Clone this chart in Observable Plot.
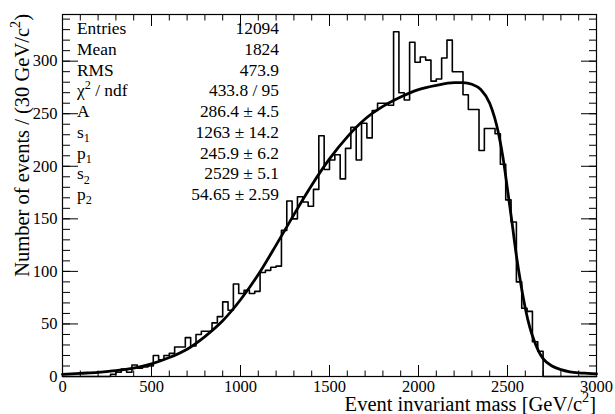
<!DOCTYPE html>
<html>
<head>
<meta charset="utf-8">
<script src="https://cdn.jsdelivr.net/npm/d3@7"></script>
<script src="https://cdn.jsdelivr.net/npm/@observablehq/plot@0.6"></script>
<style>
  html, body { margin: 0; padding: 0; background: #fff; }
  #chart svg { display: block; }
  #chart svg text, #chart svg tspan { font-family: "Liberation Serif", "Times New Roman", Times, serif !important; }
</style>
</head>
<body>
<div id="chart"></div>
<script>
// ---------------- data ----------------
const binWidth = 30; // GeV/c^2 per bin, 100 bins over [0, 3000]
const counts = [
  0, 0, 0, 0, 0, 0, 0, 0, 0, 2,
  4, 7, 4, 11, 8, 9, 10, 20, 16, 20,
  22, 28, 28, 37, 29, 40, 43, 43, 51, 57,
  71, 63, 88, 79, 82, 79, 81, 99, 101, 104,
  105, 139, 167, 150, 171, 166, 162, 178, 229, 197,
  206, 211, 188, 217, 237, 206, 241, 227, 253, 260,
  260, 258, 328, 270, 263, 318, 299, 304, 301, 281,
  283, 303, 320, 290, 290, 268, 254, 254, 215, 236,
  236, 231, 202, 168, 147, 90, 65, 62, 33, 24,
  0, 0, 0, 0, 0, 0, 0, 0, 0, 0
];

// fitted function
const fitX = [0, 100, 200, 300, 400, 500, 600, 700, 800, 900, 1000, 1100, 1200, 1300, 1400,
  1500, 1600, 1700, 1800, 1900, 2000, 2100, 2200, 2250, 2300, 2350, 2400, 2450, 2475, 2500,
  2525, 2550, 2575, 2600, 2625, 2650, 2675, 2700, 2750, 2800, 2850, 2900, 2950, 3000];
const fitY = [2, 3, 4, 5.5, 8, 12, 18, 26, 38, 53, 73, 97, 125, 154, 182,
  207, 228, 245, 257, 266, 273, 277, 279.5, 279.6, 278, 273, 260, 231, 208, 178,
  147, 115, 88, 65, 47, 34, 24, 17, 10, 6.5, 4.5, 3.5, 3, 2.5];

const xDomain = [0, 3000];
const yDomain = [0, 344.4];
const xMajorTicks = [0, 500, 1000, 1500, 2000, 2500, 3000];
const xMinorTicks = d3.range(0, 3001, 100);
const yMajorTicks = [0, 50, 100, 150, 200, 250, 300];
const yMinorTicks = d3.range(0, 341, 10);

const xTitle = "Event invariant mass [GeV/c^{2}]";
const yTitle = "Number of events / (30 GeV/c^{2})";

const statNames = ["Entries", "Mean", "RMS", "χ^{2} / ndf", "A", "s_{1}", "p_{1}", "s_{2}", "p_{2}"];
const statValues = ["12094", "1824", "473.9", "433.8 / 95", "286.4 ± 4.5", "1263 ± 14.2",
  "245.9 ± 6.2", "2529 ± 5.1", "54.65 ± 2.59"];

// ---------------- build ----------------
const FONT = '"Liberation Serif", "Times New Roman", Times, serif';
const W = 615, H = 414;
const mL = 62, mR = 19, mT = 14, mB = 38;

const steps = counts.map((c, i) => ({x: i * binWidth, y: c}));
steps.push({x: counts.length * binWidth, y: counts[counts.length - 1]});
const fit = fitX.map((x, i) => ({x, y: fitY[i]}));

const majX = 11, minX = 5.5, majY = 16, minY = 8;

const plot = Plot.plot({
  width: W,
  height: H,
  marginLeft: mL,
  marginRight: mR,
  marginTop: mT,
  marginBottom: mB,
  style: {"font-family": FONT, "font-size": "16.5px", color: "black", background: "white", overflow: "visible"},
  x: {domain: xDomain},
  y: {domain: yDomain},
  marks: [
    // inward ticks on all four sides
    Plot.axisX({anchor: "bottom", ticks: xMinorTicks, tickSize: minX, dy: -minX, fill: "none", label: null}),
    Plot.axisX({anchor: "bottom", ticks: xMajorTicks, tickSize: majX, dy: -majX, fill: "none", label: null}),
    Plot.axisX({anchor: "top", ticks: xMinorTicks, tickSize: minX, dy: minX, fill: "none", label: null}),
    Plot.axisX({anchor: "top", ticks: xMajorTicks, tickSize: majX, dy: majX, fill: "none", label: null}),
    Plot.axisY({anchor: "left", ticks: yMinorTicks, tickSize: minY, dx: minY, fill: "none", label: null}),
    Plot.axisY({anchor: "left", ticks: yMajorTicks, tickSize: majY, dx: majY, fill: "none", label: null}),
    Plot.axisY({anchor: "right", ticks: yMinorTicks, tickSize: minY, dx: -minY, fill: "none", label: null}),
    Plot.axisY({anchor: "right", ticks: yMajorTicks, tickSize: majY, dx: -majY, fill: "none", label: null}),
    // tick labels
    Plot.axisX({anchor: "bottom", ticks: xMajorTicks, tickSize: 0, tickPadding: 4, fontSize: 16.5, tickFormat: d => String(d), label: null}),
    Plot.axisY({anchor: "left", ticks: yMajorTicks, tickSize: 0, tickPadding: 5, fontSize: 16.5, tickFormat: d => String(d), label: null}),
    // histogram outline
    Plot.line(steps, {x: "x", y: "y", curve: "step-after", stroke: "black", strokeWidth: 1.6}),
    // fit curve
    Plot.line(fit, {x: "x", y: "y", curve: "monotone-x", stroke: "black", strokeWidth: 2.8}),
    Plot.frame({stroke: "black", strokeWidth: 1.2})
  ]
});

document.getElementById("chart").appendChild(plot);

// ---------- rich text helper (sub/superscripts) ----------
function richText(textSel, str, size) {
  const re = /(\^\{[^}]*\}|_\{[^}]*\})/g;
  const parts = str.split(re).filter(s => s.length);
  let cur = 0;
  parts.forEach(p => {
    let target = 0, txt = p, fs = size;
    if (p.startsWith("^{")) { target = -0.42 * size; txt = p.slice(2, -1); fs = size * 0.7; }
    else if (p.startsWith("_{")) { target = 0.25 * size; txt = p.slice(2, -1); fs = size * 0.7; }
    const t = textSel.append("tspan").text(txt).style("font-size", fs + "px");
    if (target !== cur) t.attr("dy", target - cur);
    cur = target;
  });
}

const svg = d3.select(plot);

// axis titles
const TITLE = 20.5;
const xt = svg.append("text")
  .attr("x", W - mR).attr("y", 411)
  .style("text-anchor", "end")
  .style("font-size", TITLE + "px").attr("fill", "black");
richText(xt, xTitle, TITLE);

const yt = svg.append("text")
  .attr("transform", `translate(29,${mT}) rotate(-90)`)
  .style("text-anchor", "end")
  .style("font-size", TITLE + "px").attr("fill", "black");
richText(yt, yTitle, TITLE);

// statistics box
const STAT = 17.4;
const statG = svg.append("g").attr("fill", "black");
statNames.forEach((name, i) => {
  const yb = 34.3 + i * 20.7;
  const tl = statG.append("text").attr("x", 77).attr("y", yb)
    .style("text-anchor", "start").style("font-size", STAT + "px");
  richText(tl, name, STAT);
  statG.append("text").attr("x", 279).attr("y", yb)
    .style("text-anchor", "end").style("font-size", STAT + "px")
    .text(statValues[i]);
});
</script>
</body>
</html>
